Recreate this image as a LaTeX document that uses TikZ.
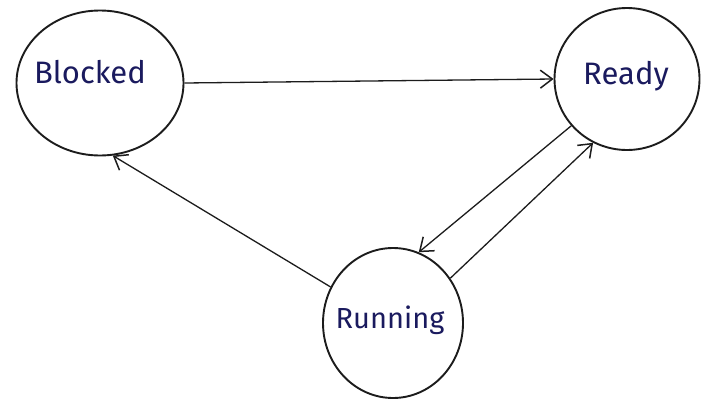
\documentclass[tikz,border=0pt]{standalone}
\usepackage{fontspec}
\setmainfont{Fira Sans}
\usetikzlibrary{shapes.geometric,arrows.meta}
\definecolor{ink}{HTML}{1C1C1C}
\definecolor{pen}{HTML}{1A1A5E}
\tikzset{
  state/.style={ellipse, draw=ink, line width=1.9pt, inner sep=0pt,
    text=pen, font=\fontsize{31}{36}\selectfont},
  trans/.style={draw=ink, line width=1.3pt,
    -{Straight Barb[length=12pt,width=18pt,line width=1.5pt]}}
}
\begin{document}
\begin{tikzpicture}[x=1pt,y=-1pt]
  \useasboundingbox[fill=white] (0,0) rectangle (708,399);
  % the three process states
  \node[state, minimum width=167pt, minimum height=145pt] (blocked) at (100,83) {};
  \node[state, minimum width=145pt, minimum height=142pt] (ready) at (627,79) {};
  \node[state, minimum width=140pt, minimum height=150pt] (running) at (393,323) {};
  % state names, set slightly off-centre as written
  \node[text=pen, font=\fontsize{31}{36}\selectfont] (tblocked) at (90,72) {Blocked};
  \node[text=pen, font=\fontsize{31}{36}\selectfont] (tready) at (626,76) {Ready};
  \node[text=pen, font=\fontsize{29}{34}\selectfont] (trunning) at (390,320) {Running};
  % transitions between states
  \draw[trans] (blocked.east) -- (ready.west);
  \draw[trans] (running.150) -- (blocked.-80);
  \draw[trans] (ready.-140) -- (running.70);
  \draw[trans] (running.38) -- (ready.-118);
\end{tikzpicture}
\end{document}
